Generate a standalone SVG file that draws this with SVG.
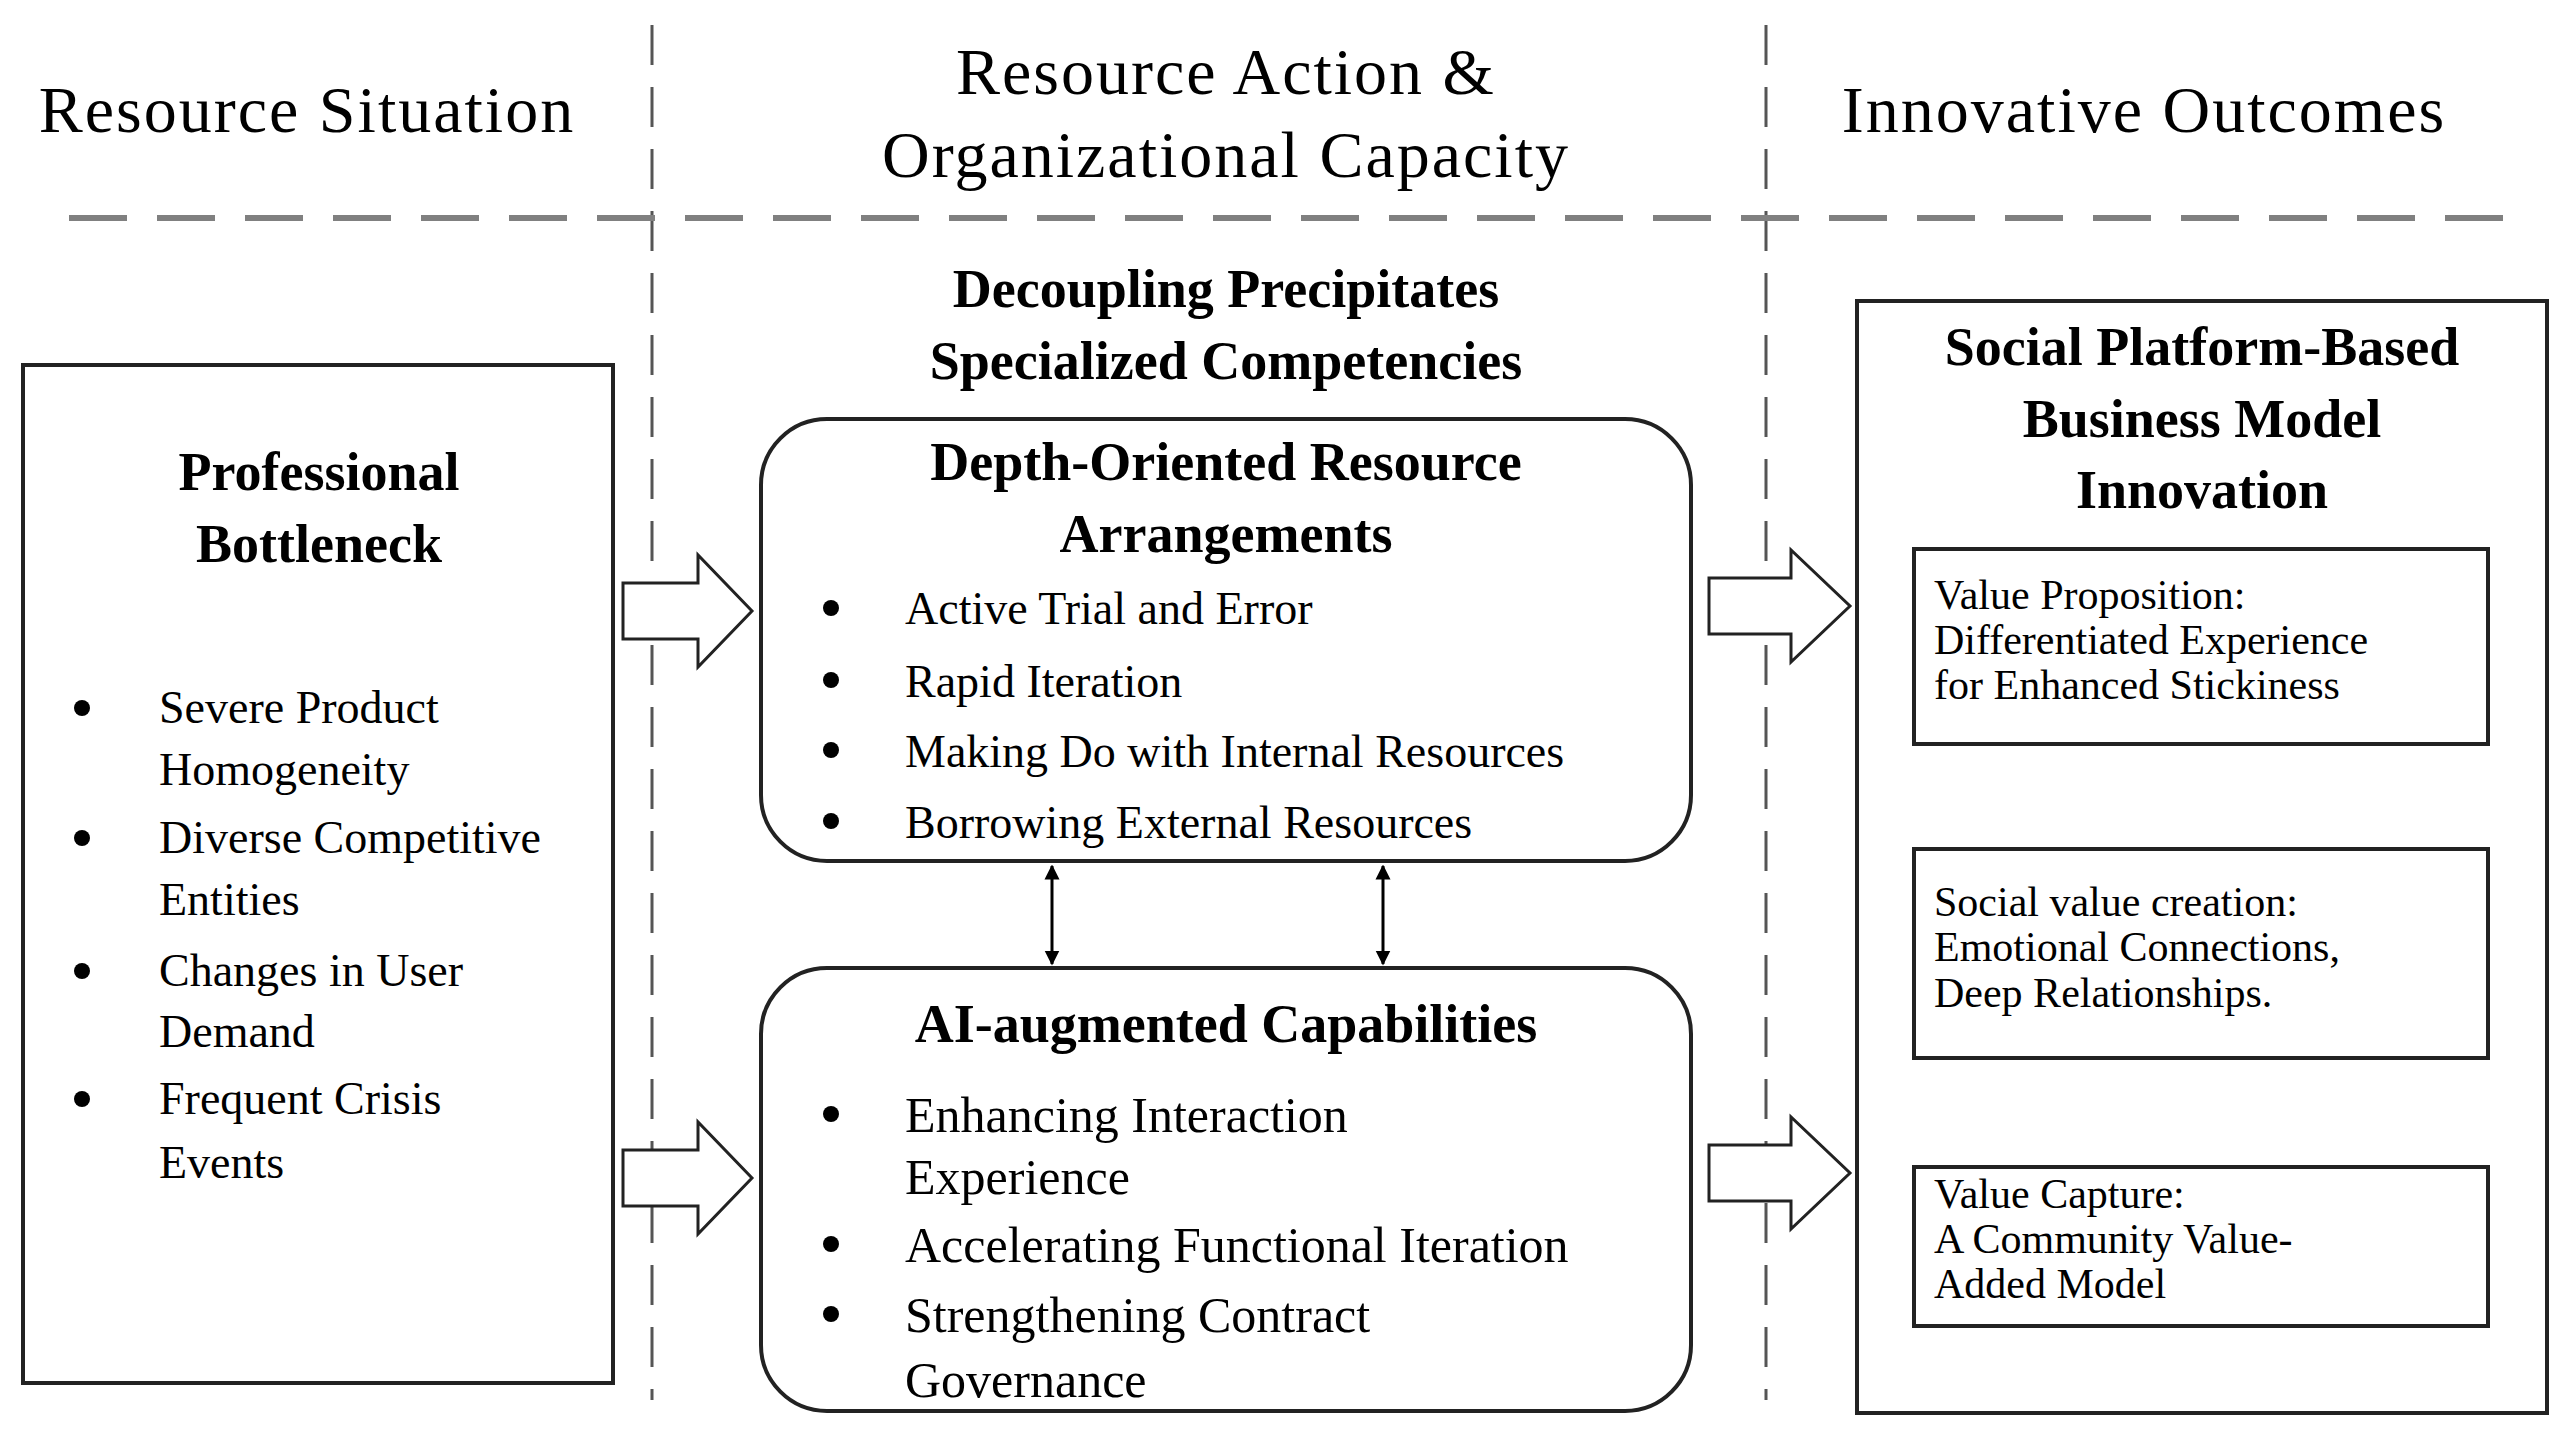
<svg xmlns="http://www.w3.org/2000/svg" width="2564" height="1432" viewBox="0 0 2564 1432">
<style>
text{font-family:"Liberation Serif","Times New Roman",serif;fill:#000}
.h{font-size:66px;letter-spacing:2px}
.b{font-weight:bold;font-size:54px}
.t{font-size:46px}
.s{font-size:42px}
.box{fill:#fff;stroke:#222;stroke-width:4}
.blk{fill:#fff;stroke:#222;stroke-width:3}
.dot{fill:#000}
</style>
<defs>
<marker id="ah" viewBox="0 0 10 10" refX="9" refY="5" markerWidth="5" markerHeight="6" orient="auto-start-reverse"><path d="M0,0L10,5L0,10z" fill="#000"/></marker>
</defs>
<rect width="2564" height="1432" fill="#fff"/>
<g id="dividers">
<line x1="652" y1="25" x2="652" y2="1400" stroke="#555" stroke-width="3" stroke-dasharray="40,22"/>
<line x1="1766" y1="25" x2="1766" y2="1400" stroke="#555" stroke-width="3" stroke-dasharray="40,22"/>
<line x1="69" y1="218" x2="2522" y2="218" stroke="#808080" stroke-width="6" stroke-dasharray="58,30"/>
</g>
<g id="headers">
<text class="h" x="307" y="132" text-anchor="middle">Resource Situation</text>
<text class="h" x="1226" y="94" text-anchor="middle">Resource Action &amp;</text>
<text class="h" x="1226" y="177" text-anchor="middle">Organizational Capacity</text>
<text class="h" x="2144" y="132" text-anchor="middle">Innovative Outcomes</text>
<text class="b" x="1226" y="307" text-anchor="middle">Decoupling Precipitates</text>
<text class="b" x="1226" y="379" text-anchor="middle">Specialized Competencies</text>
</g>
<g id="left">
<rect class="box" x="23" y="365" width="590" height="1018"/>
<text class="b" x="319" y="490" text-anchor="middle">Professional</text>
<text class="b" x="319" y="562" text-anchor="middle">Bottleneck</text>
<g class="t">
<circle class="dot" cx="82" cy="708" r="8"/><text x="159" y="723">Severe Product</text>
<text x="159" y="785">Homogeneity</text>
<circle class="dot" cx="82" cy="838" r="8"/><text x="159" y="853">Diverse Competitive</text>
<text x="159" y="915">Entities</text>
<circle class="dot" cx="82" cy="971" r="8"/><text x="159" y="986">Changes in User</text>
<text x="159" y="1047">Demand</text>
<circle class="dot" cx="82" cy="1099" r="8"/><text x="159" y="1114">Frequent Crisis</text>
<text x="159" y="1178">Events</text>
</g>
</g>
<g id="depth">
<rect class="box" x="761" y="419" width="930" height="442" rx="66"/>
<text class="b" x="1226" y="480" text-anchor="middle">Depth-Oriented Resource</text>
<text class="b" x="1226" y="552" text-anchor="middle">Arrangements</text>
<g class="t">
<circle class="dot" cx="831" cy="608" r="8"/><text x="905" y="624">Active Trial and Error</text>
<circle class="dot" cx="831" cy="680" r="8"/><text x="905" y="697">Rapid Iteration</text>
<circle class="dot" cx="831" cy="750" r="8"/><text x="905" y="767">Making Do with Internal Resources</text>
<circle class="dot" cx="831" cy="821" r="8"/><text x="905" y="838">Borrowing External Resources</text>
</g>
</g>
<g id="ai">
<rect class="box" x="761" y="968" width="930" height="443" rx="66"/>
<text class="b" x="1226" y="1042" text-anchor="middle">AI-augmented Capabilities</text>
<g class="t" style="font-size:50px">
<circle class="dot" cx="831" cy="1114" r="8"/><text x="905" y="1132">Enhancing Interaction</text>
<text x="905" y="1194">Experience</text>
<circle class="dot" cx="831" cy="1244" r="8"/><text x="905" y="1262">Accelerating Functional Iteration</text>
<circle class="dot" cx="831" cy="1314" r="8"/><text x="905" y="1332">Strengthening Contract</text>
<text x="905" y="1397">Governance</text>
</g>
</g>
<g id="outcomes">
<rect class="box" x="1857" y="301" width="690" height="1112"/>
<text class="b" x="2202" y="365" text-anchor="middle">Social Platform-Based</text>
<text class="b" x="2202" y="437" text-anchor="middle">Business Model</text>
<text class="b" x="2202" y="508" text-anchor="middle">Innovation</text>
<rect class="box" x="1914" y="549" width="574" height="195"/>
<text class="s" x="1934" y="609">Value Proposition:</text>
<text class="s" x="1934" y="654">Differentiated Experience</text>
<text class="s" x="1934" y="699">for Enhanced Stickiness</text>
<rect class="box" x="1914" y="849" width="574" height="209"/>
<text class="s" x="1934" y="916">Social value creation:</text>
<text class="s" x="1934" y="961">Emotional Connections,</text>
<text class="s" x="1934" y="1007">Deep Relationships.</text>
<rect class="box" x="1914" y="1167" width="574" height="159"/>
<text class="s" x="1934" y="1208">Value Capture:</text>
<text class="s" x="1934" y="1253">A Community Value-</text>
<text class="s" x="1934" y="1298">Added Model</text>
</g>
<g id="connectors">
<path class="blk" d="M623,583H698V555L752,611L698,667V639H623Z"/>
<path class="blk" d="M623,1150H698V1122L752,1178L698,1234V1206H623Z"/>
<path class="blk" d="M1709,578H1791V550L1850,606L1791,662V634H1709Z"/>
<path class="blk" d="M1709,1145H1791V1117L1850,1173L1791,1229V1201H1709Z"/>
<line x1="1052" y1="866" x2="1052" y2="964" stroke="#000" stroke-width="3" marker-start="url(#ah)" marker-end="url(#ah)"/>
<line x1="1383" y1="866" x2="1383" y2="964" stroke="#000" stroke-width="3" marker-start="url(#ah)" marker-end="url(#ah)"/>
</g>
</svg>
